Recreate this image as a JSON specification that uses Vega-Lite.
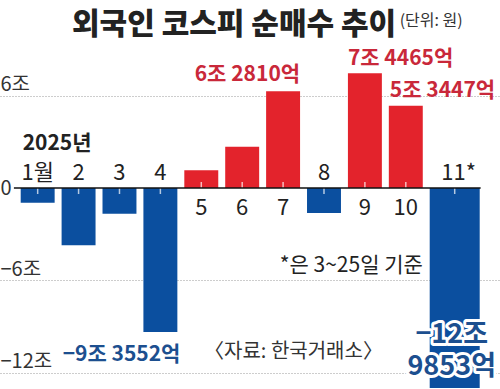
{
  "$schema": "https://vega.github.io/schema/vega-lite/v6.json",
  "width": 500,
  "height": 349,
  "autosize": {"type": "none"},
  "padding": {"top": 40, "left": 0, "right": 0, "bottom": 0},
  "background": "white",
  "config": {
    "view": {"stroke": null},
    "font": "Liberation Sans Narrow, Noto Sans CJK KR",
    "text": {"font": "Liberation Sans Narrow, Noto Sans CJK KR"}
  },
  "title": {
    "text": "외국인 코스피 순매수 추이",
    "anchor": "start",
    "dx": 72,
    "dy": 33,
    "offset": 6,
    "font": "Noto Sans CJK KR",
    "fontSize": 30,
    "fontWeight": 900,
    "color": "#222222"
  },
  "data": {
    "values": [
      {"month": 1, "label": "1월", "value": -0.95},
      {"month": 2, "label": "2", "value": -3.72},
      {"month": 3, "label": "3", "value": -1.67},
      {"month": 4, "label": "4", "value": -9.3552},
      {"month": 5, "label": "5", "value": 1.15},
      {"month": 6, "label": "6", "value": 2.68},
      {"month": 7, "label": "7", "value": 6.281},
      {"month": 8, "label": "8", "value": -1.62},
      {"month": 9, "label": "9", "value": 7.4465},
      {"month": 10, "label": "10", "value": 5.3447},
      {"month": 11, "label": "11*", "value": -12.9853}
    ]
  },
  "encoding": {
    "x": {
      "field": "month",
      "type": "ordinal",
      "sort": null,
      "scale": {"paddingInner": 0.17, "paddingOuter": 0.697, "align": 0.363},
      "axis": null
    }
  },
  "layer": [
    {
      "transform": [{"filter": "datum.month != 11"}],
      "mark": {"type": "bar"},
      "encoding": {
        "y": {
          "field": "value",
          "type": "quantitative",
          "scale": {"domain": [-13.05, 9.61], "nice": false, "zero": false},
          "axis": {
            "values": [6, 0, -6, -12],
            "title": null,
            "domain": false,
            "ticks": false,
            "grid": true,
            "gridDash": [1, 2],
            "gridColor": {"condition": {"test": "datum.value == 0", "value": "transparent"}, "value": "#9a9a9a"},
            "labelAlign": "left",
            "labelPadding": 0,
            "labelBaseline": {"condition": {"test": "datum.value == 0", "value": "middle"}, "value": "alphabetic"},
            "labelOffset": {"condition": {"test": "datum.value == 0", "value": 0}, "value": -5},
            "labelExpr": "datum.value == 0 ? '0' : (datum.value < 0 ? '−' + abs(datum.value) : datum.value) + '조'",
            "labelFontSize": 20,
            "labelColor": "#333333",
            "labelFont": "Liberation Sans Narrow, Noto Sans CJK KR"
          }
        },
        "color": {"condition": {"test": "datum.value > 0", "value": "#e3232c"}, "value": "#0b4f9f"}
      }
    },
    {
      "transform": [{"filter": "datum.month == 11"}],
      "mark": {"type": "bar", "width": 50, "xOffset": 8, "color": "#0b4f9f"},
      "encoding": {"y": {"field": "value", "type": "quantitative"}}
    },
    {
      "mark": {"type": "tick", "orient": "vertical", "color": "white", "size": 12, "thickness": 1.5, "xOffset": {"expr": "datum.month == 11 ? 8 : 0"}},
      "encoding": {"y": {"datum": 0, "type": "quantitative"}}
    },
    {
      "data": {"values": [{"a": 1}]},
      "mark": {"type": "rule", "color": "#111111", "strokeWidth": 1.5},
      "encoding": {
        "x": {"datum": 1, "bandPosition": -0.2},
        "x2": {"datum": 11, "bandPosition": 1.5},
        "y": {"datum": 0, "type": "quantitative"}
      }
    },
    {
      "transform": [{"filter": "datum.value < 0"}],
      "mark": {"type": "text", "baseline": "alphabetic", "dy": -8, "fontSize": 22, "color": "#222222", "dx": {"expr": "datum.month == 11 ? 12 : 0"}},
      "encoding": {"y": {"datum": 0, "type": "quantitative"}, "text": {"field": "label"}}
    },
    {
      "transform": [{"filter": "datum.value > 0"}],
      "mark": {"type": "text", "baseline": "alphabetic", "dy": 27, "fontSize": 22, "color": "#222222"},
      "encoding": {"y": {"datum": 0, "type": "quantitative"}, "text": {"field": "label"}}
    },
    {
      "transform": [{"filter": "datum.month == 7"}],
      "mark": {"type": "text", "align": "right", "baseline": "alphabetic", "dx": 17, "dy": -10, "fontSize": 21, "fontWeight": "bold", "color": "#c9283a"},
      "encoding": {"y": {"field": "value", "type": "quantitative"}, "text": {"value": "6조 2810억"}}
    },
    {
      "transform": [{"filter": "datum.month == 9"}],
      "mark": {"type": "text", "align": "left", "baseline": "alphabetic", "dx": -17, "dy": -8, "fontSize": 21, "fontWeight": "bold", "color": "#c9283a"},
      "encoding": {"y": {"field": "value", "type": "quantitative"}, "text": {"value": "7조 4465억"}}
    },
    {
      "transform": [{"filter": "datum.month == 10"}],
      "mark": {"type": "text", "align": "left", "baseline": "alphabetic", "dx": -16, "dy": -9, "fontSize": 21, "fontWeight": "bold", "color": "#c9283a"},
      "encoding": {"y": {"field": "value", "type": "quantitative"}, "text": {"value": "5조 3447억"}}
    },
    {
      "transform": [{"filter": "datum.month == 4"}],
      "mark": {"type": "text", "align": "right", "baseline": "alphabetic", "dx": 20, "dy": 29, "fontSize": 21, "fontWeight": "bold", "color": "#1c4f8f"},
      "encoding": {"y": {"field": "value", "type": "quantitative"}, "text": {"value": "−9조 3552억"}}
    },
    {
      "transform": [{"filter": "datum.month == 11"}],
      "mark": {"type": "text", "align": "center", "baseline": "alphabetic", "dx": 5, "dy": -45, "fontSize": 27, "fontWeight": "bold", "lineHeight": 32, "color": "#1c4f8f", "stroke": "white", "strokeWidth": 6, "strokeJoin": "round"},
      "encoding": {"y": {"field": "value", "type": "quantitative"}, "text": {"value": ["−12조", "9853억"]}}
    },
    {
      "transform": [{"filter": "datum.month == 11"}],
      "mark": {"type": "text", "align": "center", "baseline": "alphabetic", "dx": 5, "dy": -45, "fontSize": 27, "fontWeight": "bold", "lineHeight": 32, "color": "#1c4f8f"},
      "encoding": {"y": {"field": "value", "type": "quantitative"}, "text": {"value": ["−12조", "9853억"]}}
    },
    {
      "data": {"values": [{"t": "2025년"}]},
      "mark": {"type": "text", "align": "left", "baseline": "alphabetic", "dx": -15, "fontSize": 21, "fontWeight": "bold", "color": "#222222"},
      "encoding": {"x": {"datum": 1}, "y": {"datum": 2.47, "type": "quantitative"}, "text": {"field": "t"}}
    },
    {
      "data": {"values": [{"t": "*은 3~25일 기준"}]},
      "mark": {"type": "text", "align": "right", "baseline": "alphabetic", "dx": 17, "fontSize": 21, "color": "#222222"},
      "encoding": {"x": {"datum": 10}, "y": {"datum": -5.45, "type": "quantitative"}, "text": {"field": "t"}}
    },
    {
      "data": {"values": [{"t": "〈자료: 한국거래소〉"}]},
      "mark": {"type": "text", "align": "right", "baseline": "alphabetic", "dx": 18, "fontSize": 20, "color": "#333333"},
      "encoding": {"x": {"datum": 9}, "y": {"datum": -11.04, "type": "quantitative"}, "text": {"field": "t"}}
    },
    {
      "data": {"values": [{"t": "(단위: 원)"}]},
      "mark": {"type": "text", "align": "right", "baseline": "alphabetic", "dx": 16, "fontSize": 16, "color": "#333333"},
      "encoding": {"x": {"datum": 11}, "y": {"datum": 10.52, "type": "quantitative"}, "text": {"field": "t"}}
    }
  ]
}
